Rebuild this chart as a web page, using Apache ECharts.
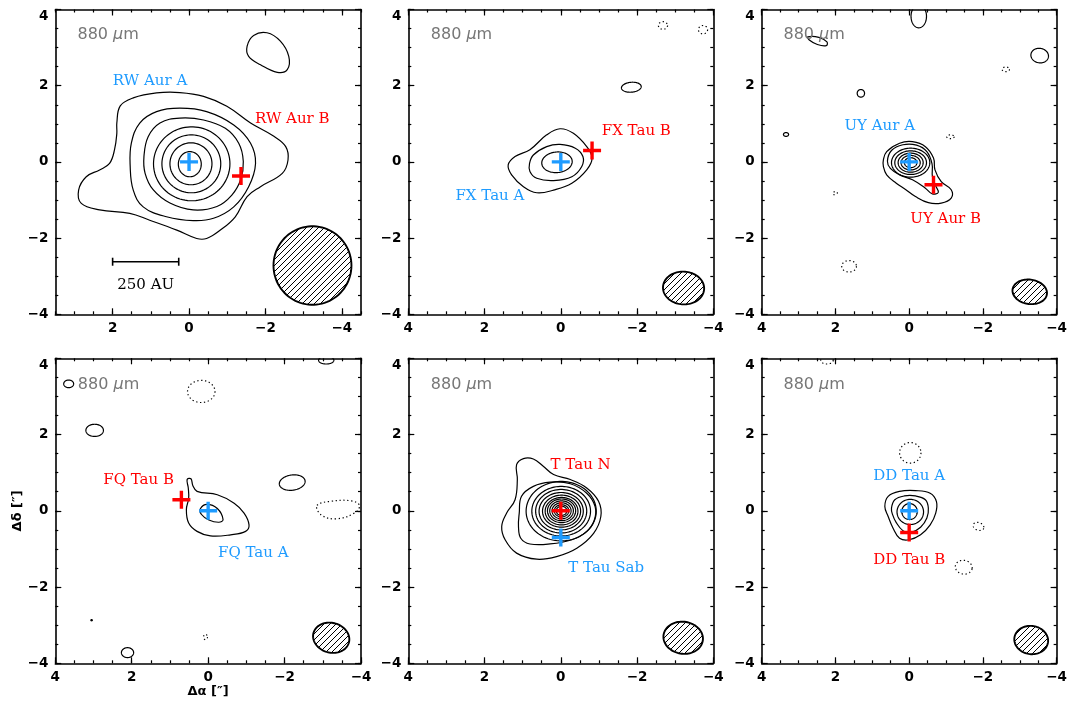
<!DOCTYPE html>
<html><head><meta charset="utf-8">
<script src="https://cdn.jsdelivr.net/npm/echarts@6/dist/echarts.min.js"></script>
<style>html,body{margin:0;padding:0;background:#fff}#c{width:1070px;height:702px}</style>
</head><body><div id="c"></div>
<script>
// ================= DATA (offsets in arcsec) =================
const xRangeMin = [-4.5, -4, -4, -4, -4, -4];
const xRangeMax = [3.5, 4, 4, 4, 4, 4];
const yRangeMin = -4, yRangeMax = 4;
const majorTickValues = [-4, -2, 0, 2, 4];
const bandLabel = '880 {i|μ}m';
const xTitle = 'Δα [″]';
const yTitle = 'Δδ [″]';

// --- RW Aur ---
const rwLines = [
  [[1.89,1.02],[1.80,1.47],[1.46,1.68],[0.85,1.81],[0.24,1.82],[-0.38,1.72],[-0.99,1.46],[-1.61,1.02],[-2.22,0.67],[-2.53,0.40],[-2.59,0.05],[-2.44,-0.30],[-1.87,-0.65],[-1.52,-0.91],[-1.21,-1.44],[-0.82,-1.79],[-0.46,-2.01],[-0.20,-2.01],[0.32,-1.79],[1.03,-1.53],[1.55,-1.35],[2.34,-1.26],[2.82,-1.09],[2.89,-0.74],[2.69,-0.39],[2.34,-0.21],[2.08,-0.04],[1.95,0.32],[1.89,0.75]],
  [[1.51,0.49],[1.29,1.02],[0.85,1.32],[0.24,1.41],[-0.46,1.32],[-1.17,0.97],[-1.61,0.49],[-1.74,-0.04],[-1.56,-0.65],[-1.17,-1.18],[-0.64,-1.48],[-0.11,-1.54],[0.59,-1.44],[1.20,-1.18],[1.46,-0.74],[1.54,-0.12]],
  [[1.18,0.14],[1.07,0.66],[0.76,1.02],[0.24,1.15],[-0.38,1.10],[-0.95,0.88],[-1.30,0.49],[-1.42,0.01],[-1.35,-0.47],[-1.12,-0.87],[-0.73,-1.17],[-0.11,-1.26],[0.50,-1.08],[0.94,-0.73],[1.15,-0.30]],
  [[-1.52,3.04],[-1.69,3.32],[-2.04,3.39],[-2.39,3.17],[-2.61,2.77],[-2.57,2.42],[-2.31,2.35],[-1.87,2.55],[-1.56,2.77]]
];
const rwRings = [[-0.07,-0.05,1.00,0.97,0],[-0.06,-0.05,0.77,0.76,0],[-0.05,-0.05,0.55,0.55,0],[-0.02,-0.06,0.30,0.33,0]];
const rwDottedLines = [];
const rwDottedRings = [];
const rwBeam = [-3.23,-2.72,1.02,1.03,0];
const rwStars = [[0,0],[-1.36,-0.37]];
const rwNames = ['RW Aur A','RW Aur B'];
const rwScaleBar = [2.0, 0.27, -2.62];
const rwScaleText = '250 AU';

// --- FX Tau ---
const fxLines = [
  [[1.38,-0.08],[1.20,0.14],[0.81,0.32],[0.37,0.71],[0.02,0.87],[-0.33,0.75],[-0.68,0.40],[-0.82,0.10],[-0.68,-0.21],[-0.29,-0.56],[0.19,-0.74],[0.63,-0.81],[0.98,-0.65],[1.29,-0.34]],
  [[0.82,-0.04],[0.72,0.18],[0.37,0.40],[0.02,0.46],[-0.38,0.36],[-0.58,0.14],[-0.55,-0.12],[-0.29,-0.39],[0.19,-0.49],[0.63,-0.43],[0.81,-0.25]]
];
const fxRings = [[0.10,-0.01,0.40,0.27,-5],[-1.85,1.96,0.26,0.13,-5]];
const fxDottedLines = [];
const fxDottedRings = [[-2.68,3.58,0.12,0.10,0],[-3.73,3.47,0.12,0.11,0]];
const fxBeam = [-3.22,-3.31,0.54,0.43,3];
const fxStars = [[0,0],[-0.82,0.30]];
const fxNames = ['FX Tau A','FX Tau B'];

// --- UY Aur ---
const uyLines = [
  [[0.70,0.05],[0.61,0.27],[0.26,0.49],[-0.09,0.53],[-0.44,0.40],[-0.66,0.10],[-0.70,-0.21],[-0.87,-0.52],[-1.14,-0.73],[-1.14,-0.95],[-0.87,-1.08],[-0.52,-1.07],[-0.17,-0.91],[0.09,-0.73],[0.35,-0.56],[0.61,-0.34],[0.70,-0.12]],
  [[0.59,0.02],[0.48,0.30],[0.17,0.45],[-0.20,0.44],[-0.48,0.27],[-0.62,-0.05],[-0.63,-0.38],[-0.72,-0.63],[-0.79,-0.80],[-0.63,-0.84],[-0.44,-0.69],[-0.09,-0.47],[0.26,-0.34],[0.51,-0.17]],
  [[2.75,3.28],[2.45,3.27],[2.23,3.15],[2.25,3.05],[2.49,3.08],[2.71,3.20]]
];
const uyRings = [[-0.04,-0.02,0.52,0.38,0],[-0.04,-0.02,0.43,0.31,0],[-0.04,-0.02,0.34,0.25,0],[-0.04,-0.02,0.26,0.19,0],[-0.04,-0.02,0.17,0.13,0],
  [-0.26,3.82,0.21,0.30,0],[-3.54,2.79,0.24,0.19,10],[1.31,1.80,0.10,0.10,0],[3.34,0.72,0.07,0.05,0]];
const uyDottedLines = [];
const uyDottedRings = [[-2.62,2.43,0.10,0.06,0],[-1.12,0.66,0.10,0.05,0],[2.01,-0.82,0.06,0.04,-20],[1.63,-2.74,0.20,0.15,0]];
const uyBeam = [-3.27,-3.41,0.47,0.32,8];
const uyStars = [[0,0],[-0.66,-0.60]];
const uyNames = ['UY Aur A','UY Aur B'];

// --- FQ Tau ---
const fqLines = [
  [[0.55,0.82],[0.45,0.84],[0.40,0.66],[0.29,0.51],[-0.24,0.42],[-0.68,0.20],[-0.94,-0.06],[-1.07,-0.37],[-0.98,-0.54],[-0.59,-0.63],[-0.06,-0.66],[0.29,-0.54],[0.51,-0.32],[0.57,0.03],[0.51,0.33],[0.52,0.60]],
  [[0.20,0.06],[0.03,0.17],[-0.24,0.06],[-0.39,-0.23],[-0.28,-0.30],[-0.02,-0.24],[0.18,-0.09]]
];
const fqRings = [[-3.09,3.95,0.20,0.10,0],[3.65,3.33,0.13,0.10,0],[2.97,2.11,0.23,0.16,0],[-2.20,0.74,0.34,0.20,-8],[2.11,-3.72,0.16,0.13,0],[3.05,-2.87,0.02,0.015,0]];
const fqDottedLines = [[[-2.85,0.14],[-3.22,0.25],[-3.75,0.26],[-3.96,0.14],[-3.83,-0.06],[-3.35,-0.21],[-2.96,-0.11]]];
const fqDottedRings = [[0.18,3.13,0.36,0.29,0],[0.07,-3.31,0.05,0.07,0]];
const fqBeam = [-3.22,-3.33,0.48,0.39,15];
const fqStars = [[0,0],[0.70,0.29]];
const fqNames = ['FQ Tau A','FQ Tau B'];

// --- T Tau ---
const ttLines = [
  [[1.16,1.21],[0.98,1.37],[0.72,1.36],[0.46,1.17],[0.19,0.95],[-0.25,0.82],[-0.68,0.60],[-0.99,0.25],[-1.05,-0.15],[-0.86,-0.59],[-0.42,-0.98],[0.11,-1.20],[0.63,-1.27],[1.16,-1.11],[1.46,-0.76],[1.55,-0.41],[1.42,-0.06],[1.20,0.29],[1.14,0.82]],
  [[1.09,-0.06],[1.03,0.38],[0.72,0.64],[0.28,0.75],[-0.25,0.71],[-0.68,0.46],[-0.90,0.11],[-0.88,-0.24],[-0.68,-0.54],[-0.29,-0.76],[0.28,-0.87],[0.81,-0.87],[1.05,-0.72],[1.11,-0.41]]
];
const ttRings = [[-0.01,-0.01,0.92,0.78,0],[-0.01,-0.01,0.77,0.65,0],[-0.01,-0.01,0.67,0.57,0],[-0.01,-0.01,0.58,0.49,0],[-0.02,-0.01,0.50,0.42,0],[-0.02,-0.01,0.43,0.36,0],[-0.02,0.0,0.37,0.31,0],[-0.02,0.0,0.31,0.26,0],[-0.02,0.0,0.25,0.21,0],[-0.02,0.0,0.19,0.16,0],[-0.02,0.0,0.14,0.12,0]];
const ttDottedLines = [];
const ttDottedRings = [];
const ttBeam = [-3.21,-3.33,0.52,0.42,8];
const ttStars = [[0,0],[0,-0.70]];
const ttNames = ['T Tau N','T Tau Sab'];

// --- DD Tau ---
const ddLines = [
  [[0.66,0.11],[0.57,0.38],[0.26,0.51],[-0.17,0.53],[-0.57,0.46],[-0.74,0.24],[-0.72,-0.06],[-0.57,-0.37],[-0.31,-0.63],[0.0,-0.76],[0.26,-0.72],[0.44,-0.45],[0.57,-0.15]],
  [[0.48,0.07],[0.39,0.29],[0.13,0.39],[-0.17,0.39],[-0.44,0.29],[-0.52,0.07],[-0.48,-0.19],[-0.31,-0.43],[-0.04,-0.57],[0.17,-0.52],[0.35,-0.31],[0.45,-0.10]]
];
const ddRings = [[-0.03,-0.03,0.36,0.33,0],[-0.01,-0.02,0.21,0.21,0]];
const ddDottedLines = [];
const ddDottedRings = [[-0.03,1.52,0.29,0.27,0],[-1.88,-0.41,0.15,0.10,20],[-1.48,-1.48,0.23,0.18,10],[2.23,3.95,0.17,0.10,0]];
const ddBeam = [-3.31,-3.39,0.46,0.37,8];
const ddStars = [[0,0],[0,-0.57]];
const ddNames = ['DD Tau A','DD Tau B'];

// ================= LAYOUT / STYLE =================
const BLUE = '#1e9bff', RED = '#ff0000';
const starColors = [[BLUE,RED],[BLUE,RED],[BLUE,RED],[BLUE,RED],[RED,BLUE],[BLUE,RED]];
const nameAnchors = [
  [[1.02,2.13],[-2.70,1.12]],
  [[1.86,-0.89],[-1.98,0.81]],
  [[0.80,0.93],[-0.99,-1.50]],
  [[-1.18,-1.10],[1.82,0.81]],
  [[-0.52,1.20],[-1.19,-1.51]],
  [[0,0.91],[0,-1.29]]
];
const bandAnchors = [[2.92,3.33],[3.41,3.33],[3.41,3.33],[3.41,3.30],[3.41,3.30],[3.41,3.30]];
const gridBoxes = [
  {left:55.3, top:9.5, width:305.7, height:304.8},
  {left:408.3, top:9.5, width:305, height:304.8},
  {left:761.7, top:9.5, width:304.3, height:304.8},
  {left:55.3, top:358.3, width:305.7, height:305},
  {left:408.3, top:358.3, width:305, height:305},
  {left:761.7, top:358.3, width:304.3, height:305}
];
const LABEL_FONT = '15px "DejaVu Serif"';

const panels = [
  {lines:rwLines, rings:rwRings, dLines:rwDottedLines, dRings:rwDottedRings, beam:rwBeam, stars:rwStars, names:rwNames},
  {lines:fxLines, rings:fxRings, dLines:fxDottedLines, dRings:fxDottedRings, beam:fxBeam, stars:fxStars, names:fxNames},
  {lines:uyLines, rings:uyRings, dLines:uyDottedLines, dRings:uyDottedRings, beam:uyBeam, stars:uyStars, names:uyNames},
  {lines:fqLines, rings:fqRings, dLines:fqDottedLines, dRings:fqDottedRings, beam:fqBeam, stars:fqStars, names:fqNames},
  {lines:ttLines, rings:ttRings, dLines:ttDottedLines, dRings:ttDottedRings, beam:ttBeam, stars:ttStars, names:ttNames},
  {lines:ddLines, rings:ddRings, dLines:ddDottedLines, dRings:ddDottedRings, beam:ddBeam, stars:ddStars, names:ddNames}
];

// hatch pattern for the beam
function makeHatch(){
  const n = 6;
  const c = document.createElement('canvas'); c.width = n; c.height = n;
  const g = c.getContext('2d'); g.strokeStyle = '#000'; g.lineWidth = 1;
  g.beginPath(); g.moveTo(0,n); g.lineTo(n,0); g.moveTo(-1,1); g.lineTo(1,-1); g.moveTo(n-1,n+1); g.lineTo(n+1,n-1); g.stroke();
  return c;
}
const hatchImg = makeHatch();

function ellipsePoints(api, e){
  const c = api.coord([e[0], e[1]]);
  const s = api.size([e[2], e[3]], [e[0], e[1]]);
  const rx = Math.abs(s[0]), ry = Math.abs(s[1]);
  const th = (e[4] || 0) * Math.PI / 180;
  const pts = [];
  for (let k = 0; k < 90; k++) {
    const t = k / 90 * 2 * Math.PI;
    const a = rx * Math.cos(t), b = ry * Math.sin(t);
    pts.push([c[0] + a*Math.cos(th) - b*Math.sin(th), c[1] + a*Math.sin(th) + b*Math.cos(th)]);
  }
  return pts;
}
const fmt = v => (v < 0 ? '\u2212' + (-v) : String(v));

const xAxes = [], yAxes = [], grids = [], series = [];
const tickFont = {color:'#000', fontFamily:'DejaVu Sans', fontSize:13.5, fontWeight:'bold'};

panels.forEach((p, i) => {
  grids.push(Object.assign({containLabel:false}, gridBoxes[i]));
  const xmin = xRangeMin[i], xmax = xRangeMax[i];
  const xMaj = majorTickValues.filter(v => v >= xmin && v <= xmax);
  const yMaj = majorTickValues.filter(v => v >= yRangeMin && v <= yRangeMax);
  const minorAx = (pos, mn, mx, labels, maj, inverse, name) => ({
    type:'value', gridIndex:i, position:pos, min:mn, max:mx, interval:0.5, inverse:inverse,
    axisLine:{show:true, onZero:false, lineStyle:{color:'#000', width:1.6}},
    axisTick:{show:true, inside:true, length:3, lineStyle:{color:'#000', width:1.2}},
    axisLabel:Object.assign({show:labels, customValues:maj, formatter:fmt, margin:7}, tickFont),
    splitLine:{show:false},
    name: name || '', nameLocation:'middle',
    nameTextStyle:{color:'#000', fontFamily:'DejaVu Sans', fontSize:13, fontWeight:'bold'},
  });
  const majorAx = (pos, mn, mx, maj, inverse) => ({
    type:'value', gridIndex:i, position:pos, min:mn, max:mx, interval:0.5, inverse:inverse,
    axisLine:{show:false, onZero:false},
    axisTick:{show:true, inside:true, length:6, customValues:maj, lineStyle:{color:'#000', width:1.2}},
    axisLabel:{show:false}, splitLine:{show:false}
  });
  const xa = minorAx('bottom', xmin, xmax, true, xMaj, true, i === 3 ? xTitle : '');
  if (i === 3) xa.nameGap = 22;
  xAxes.push(xa, minorAx('top', xmin, xmax, false, xMaj, true), majorAx('bottom', xmin, xmax, xMaj, true), majorAx('top', xmin, xmax, xMaj, true));
  const ya = minorAx('left', yRangeMin, yRangeMax, true, yMaj, false, i === 3 ? yTitle : '');
  ya.axisLabel.verticalAlignMaxLabel = 'top';
  if (i === 3) { ya.nameGap = 31; ya.nameRotate = 90; }
  yAxes.push(ya, minorAx('right', yRangeMin, yRangeMax, false, yMaj, false), majorAx('left', yRangeMin, yRangeMax, yMaj, false), majorAx('right', yRangeMin, yRangeMax, yMaj, false));

  const base = {type:'custom', coordinateSystem:'cartesian2d', xAxisIndex:i*4, yAxisIndex:i*4, clip:true, silent:true, animation:false};

  // contour polylines (solid + dotted)
  const allLines = p.lines.map(l => ({pts:l, d:false})).concat(p.dLines.map(l => ({pts:l, d:true})));
  if (allLines.length) series.push(Object.assign({}, base, {z:2,
    data: allLines.map((l, k) => [l.pts[0][0], l.pts[0][1], k]),
    renderItem: (params, api) => {
      const l = allLines[params.dataIndex];
      return {type:'polygon', shape:{points:l.pts.map(q => api.coord(q)), smooth:0.4},
        style:{fill:'none', stroke:'#000', lineWidth:1.2, lineDash:l.d ? [1.3,2.6] : null}};
    }}));
  // elliptical contours
  const allRings = p.rings.map(r => ({e:r, d:false})).concat(p.dRings.map(r => ({e:r, d:true})));
  if (allRings.length) series.push(Object.assign({}, base, {z:2,
    data: allRings.map((r, k) => [r.e[0], r.e[1], k]),
    renderItem: (params, api) => {
      const r = allRings[params.dataIndex];
      return {type:'polygon', shape:{points:ellipsePoints(api, r.e)},
        style:{fill:'none', stroke:'#000', lineWidth:1.2, lineDash:r.d ? [1.3,2.6] : null}};
    }}));
  // beam
  series.push(Object.assign({}, base, {z:3, data:[[p.beam[0], p.beam[1]]],
    renderItem: (params, api) => ({type:'polygon', shape:{points:ellipsePoints(api, p.beam)},
      style:{fill:{image:hatchImg, repeat:'repeat'}, stroke:'#000', lineWidth:1.9}})}));
  // star crosses
  series.push(Object.assign({}, base, {z:5, data:p.stars.map(s => [s[0], s[1]]),
    renderItem: (params, api) => {
      const c = api.coord([api.value(0), api.value(1)]); const h = 9;
      const col = starColors[i][params.dataIndex];
      return {type:'group', children:[
        {type:'line', shape:{x1:c[0]-h, y1:c[1], x2:c[0]+h, y2:c[1]}, style:{stroke:col, lineWidth:3.4}},
        {type:'line', shape:{x1:c[0], y1:c[1]-h, x2:c[0], y2:c[1]+h}, style:{stroke:col, lineWidth:3.4}}
      ]};
    }}));
  // star names
  series.push(Object.assign({}, base, {z:6, clip:false, data:p.names.map((n, k) => [nameAnchors[i][k][0], nameAnchors[i][k][1]]),
    renderItem: (params, api) => {
      const c = api.coord([api.value(0), api.value(1)]);
      return {type:'text', x:c[0], y:c[1], style:{text:p.names[params.dataIndex], fill:starColors[i][params.dataIndex],
        font:LABEL_FONT, align:'center', verticalAlign:'middle'}};
    }}));
  // band label
  series.push(Object.assign({}, base, {z:6, clip:false, data:[bandAnchors[i]],
    renderItem: (params, api) => {
      const c = api.coord([api.value(0), api.value(1)]);
      return {type:'text', x:c[0], y:c[1], style:{text:bandLabel, fill:'#777777', font:'16px "DejaVu Sans"',
        align:'left', verticalAlign:'middle', rich:{i:{fontStyle:'italic', fontSize:16, fontFamily:'DejaVu Sans', fill:'#777777'}}}};
    }}));
});

// scale bar (panel 1)
series.push({type:'custom', coordinateSystem:'cartesian2d', xAxisIndex:0, yAxisIndex:0, silent:true, animation:false, z:6,
  data:[[rwScaleBar[0], rwScaleBar[2]]],
  renderItem: (params, api) => {
    const a = api.coord([rwScaleBar[0], rwScaleBar[2]]), b = api.coord([rwScaleBar[1], rwScaleBar[2]]);
    const t = api.coord([(rwScaleBar[0] + rwScaleBar[1]) / 2, rwScaleBar[2]]);
    return {type:'group', children:[
      {type:'line', shape:{x1:a[0], y1:a[1], x2:b[0], y2:b[1]}, style:{stroke:'#000', lineWidth:1.6}},
      {type:'line', shape:{x1:a[0], y1:a[1]-4, x2:a[0], y2:a[1]+4}, style:{stroke:'#000', lineWidth:1.6}},
      {type:'line', shape:{x1:b[0], y1:b[1]-4, x2:b[0], y2:b[1]+4}, style:{stroke:'#000', lineWidth:1.6}},
      {type:'text', x:t[0], y:a[1]+23, style:{text:rwScaleText, fill:'#000', font:LABEL_FONT, align:'center', verticalAlign:'middle'}}
    ]};
  }});

const chart = echarts.init(document.getElementById('c'), null, {renderer:'canvas'});
chart.setOption({animation:false, backgroundColor:'#fff', grid:grids, xAxis:xAxes, yAxis:yAxes, series:series});
</script>
</body></html>
